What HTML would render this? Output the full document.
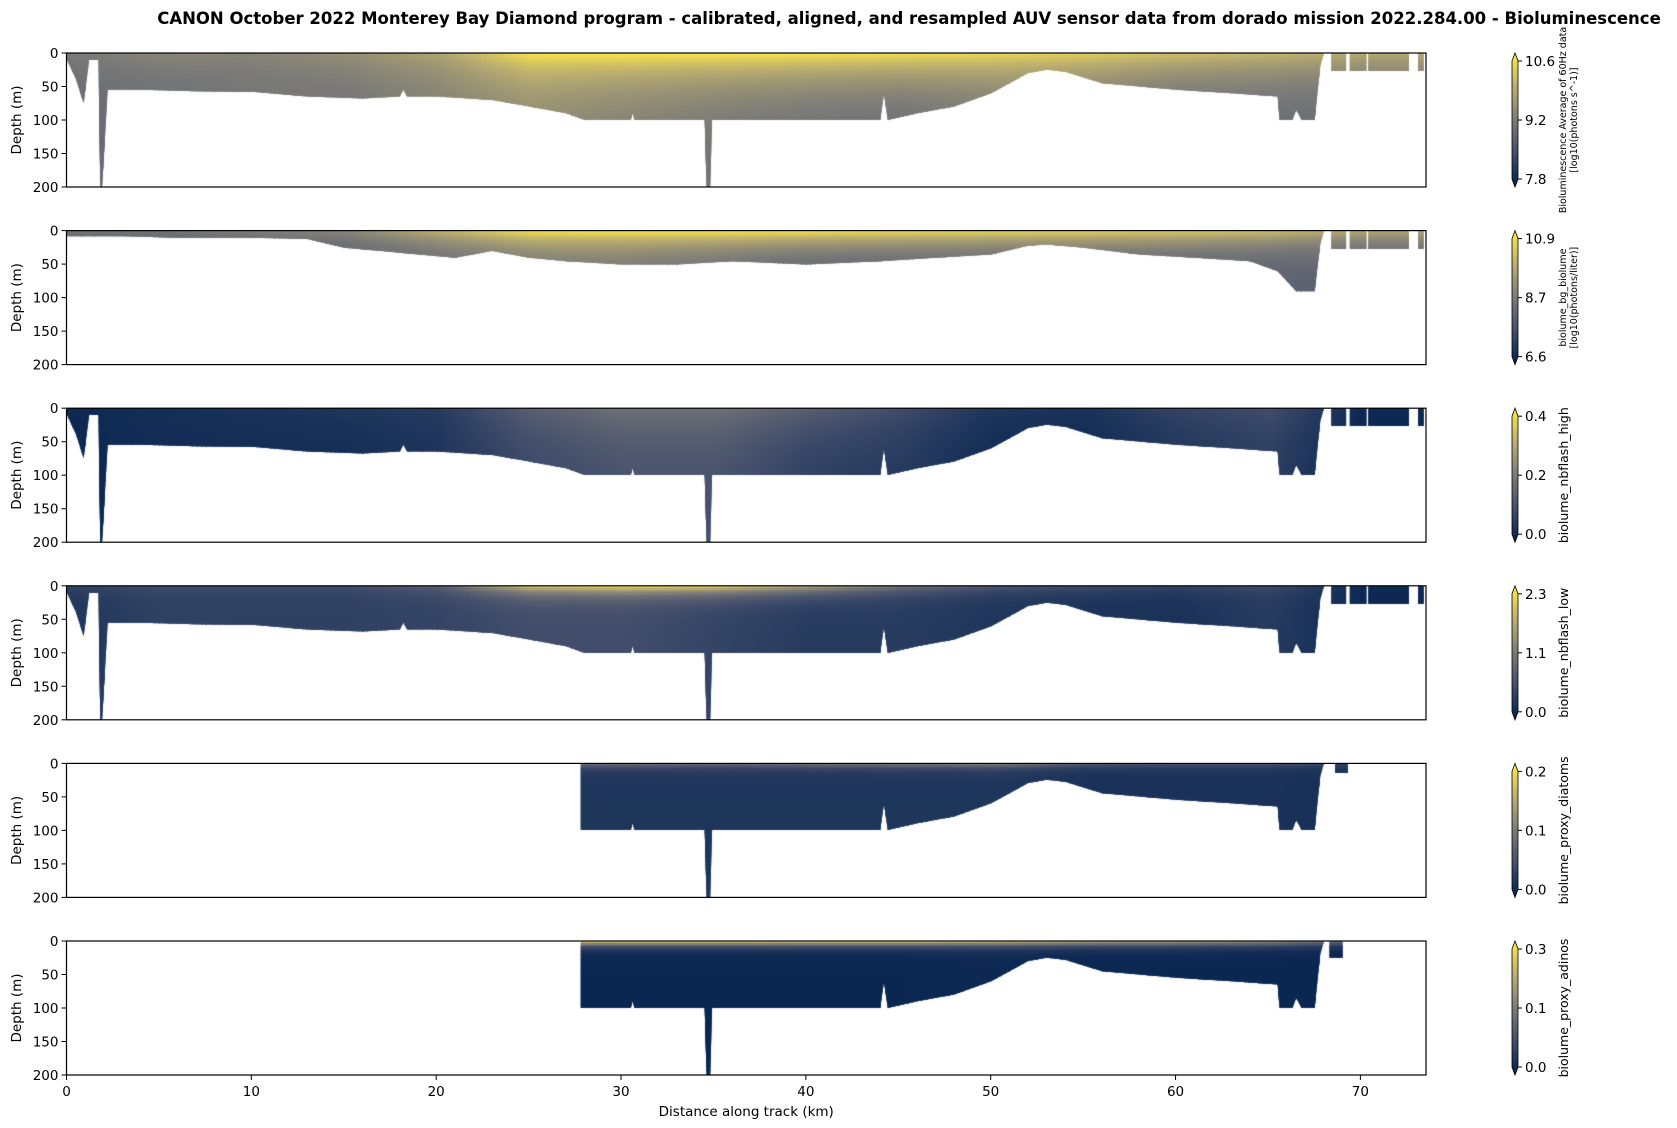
<!DOCTYPE html>
<html><head><meta charset="utf-8">
<style>
body{margin:0;background:#fff;width:1677px;height:1128px;overflow:hidden;position:relative;font-family:"DejaVu Sans","Liberation Sans",sans-serif}
canvas{position:absolute}
svg{position:absolute;left:0;top:0;font-family:"DejaVu Sans","Liberation Sans",sans-serif}
</style></head>
<body>
<div id="heat"></div>
<svg id="ax" width="1677" height="1128"></svg>
<script>
// ---- data ----
const trackKm   = [0,0.5,0.9,1.2,1.7,1.8,1.9,2.2,4,7,10,13,16,18,18.2,18.4,20,23,25,27,28,30.5,30.6,30.7,34.5,34.6,34.8,34.9,40,44,44.2,44.4,46,48,50,52,53,54,56,58,60,63,65.5,65.6,66.3,66.5,66.8,67.5,67.8,68];
const bottomM   = [10,40,75,10,10,200,200,55,55,57,58,65,68,65,55,65,65,70,80,90,100,100,90,100,100,200,200,100,100,100,60,100,90,80,60,30,25,28,45,50,55,60,65,100,100,85,100,100,20,0];
const bgKm      = [0,3,6,10,13,15,17,19,21,23,25,27,30,33,36,40,44,47,50,52,53,55,58,61,64,65.5,66.5,67.5,67.8,68];
const bgBottomM = [8,8,10,10,12,25,30,35,40,30,40,45,50,50,45,50,45,40,35,22,20,25,35,40,45,60,90,90,20,0];
const blockStart= [68.4,69.4,70.4,71.6,73.1];
const blockEnd  = [69.2,70.3,71.7,72.6,73.4];
const stationKm = [0,5,10,15,20,25,30,35,40,45,50,55,60,65,70];
const surfVals = [
 [0.5,0.55,0.55,0.6,0.7,0.97,0.98,0.98,0.97,0.95,0.92,0.88,0.82,0.78,0.72],
 [0.45,0.45,0.5,0.55,0.75,0.95,0.97,0.97,0.95,0.92,0.9,0.88,0.85,0.8,0.7],
 [0.05,0.08,0.1,0.12,0.15,0.35,0.45,0.45,0.35,0.25,0.12,0.1,0.2,0.25,0.05],
 [0.2,0.25,0.25,0.25,0.35,0.85,0.95,0.9,0.7,0.45,0.3,0.25,0.2,0.25,0.05],
 [0,0,0,0,0,0.45,0.5,0.45,0.5,0.55,0.6,0.35,0.3,0.3,0.2],
 [0,0,0,0,0,0.95,0.97,0.97,0.95,0.95,0.9,0.8,0.75,0.65,0.4]];
const deepVals = [
 [0.4,0.42,0.45,0.45,0.5,0.55,0.5,0.45,0.42,0.4,0.45,0.45,0.4,0.4,0.4],
 [0.35,0.35,0.35,0.35,0.4,0.45,0.45,0.4,0.35,0.35,0.35,0.35,0.35,0.35,0.35],
 [0.04,0.06,0.06,0.06,0.1,0.2,0.25,0.25,0.15,0.12,0.05,0.05,0.1,0.15,0.03],
 [0.12,0.18,0.18,0.18,0.2,0.25,0.25,0.2,0.15,0.15,0.12,0.1,0.1,0.15,0.05],
 [0.1,0.1,0.1,0.1,0.1,0.12,0.12,0.12,0.12,0.12,0.12,0.1,0.1,0.1,0.08],
 [0.03,0.03,0.03,0.03,0.03,0.04,0.04,0.04,0.04,0.04,0.05,0.04,0.04,0.04,0.03]];
const layerM = [45,25,60,12,6,6];
const cbLabels = ["Bioluminescence Average of 60Hz data|[log10(photons s^-1)]","biolume_bg_biolume|[log10(photons/liter)]","biolume_nbflash_high","biolume_nbflash_low","biolume_proxy_diatoms","biolume_proxy_adinos"];
const cbTicks = [["7.8","9.2","10.6"],["6.6","8.7","10.9"],["0.0","0.2","0.4"],["0.0","1.1","2.3"],["0.0","0.1","0.2"],["0.0","0.1","0.3"]];
const xTicks = [0,10,20,30,40,50,60,70];
const yTicks = [0,50,100,150,200];

// ---- layout ----
const X0=66.5, X1=1426, KMAX=73.55, PH=134;
const tops=[53,230.6,408.2,585.8,763.4,941];
const xs = km => X0 + (km/KMAX)*(X1-X0);
const ys = (d,i) => tops[i] + d/200*PH;
const stops=[[0,[0,32,77]],[0.25,[65,77,107]],[0.5,[124,123,120]],[0.75,[188,175,111]],[1,[255,234,70]]];
function cmap(v){v=Math.max(0,Math.min(1,v));for(let k=1;k<stops.length;k++){if(v<=stops[k][0]){const a=stops[k-1],b=stops[k],t=(v-a[0])/(b[0]-a[0]);return 'rgb('+a[1].map((c,j)=>Math.round(c+(b[1][j]-c)*t)).join(',')+')';}}}
function interp(arr,km){if(km<=stationKm[0])return arr[0];for(let k=1;k<stationKm.length;k++){if(km<=stationKm[k]){const t=(km-stationKm[k-1])/(stationKm[k]-stationKm[k-1]);return arr[k-1]+(arr[k]-arr[k-1])*t;}}return arr[arr.length-1];}

const NS='http://www.w3.org/2000/svg';
const svg=document.getElementById('ax');
function el(tag,attrs,parent){const e=document.createElementNS(NS,tag);for(const k in attrs)e.setAttribute(k,attrs[k]);(parent||svg).appendChild(e);return e;}

for(let i=0;i<6;i++){
  const cv=document.createElement('canvas');
  cv.width=Math.round(X1-X0);cv.height=PH;
  cv.style.left=X0+'px';cv.style.top=tops[i]+'px';
  
  
  document.getElementById('heat').appendChild(cv);
  const c=cv.getContext('2d');
  const px=km=>xs(km)-X0, py=d=>d/200*PH;
  c.beginPath();
  let kmA=trackKm, bA=bottomM;
  if(i===1){kmA=bgKm;bA=bgBottomM;}
  if(i>=4){
    c.moveTo(px(27.8),0);c.lineTo(px(27.8),py(100));
    for(let k=0;k<trackKm.length;k++){if(trackKm[k]>=28)c.lineTo(px(trackKm[k]),py(bottomM[k]));}
    c.closePath();
    const bs=i===4?[68.6]:[68.3], be=i===4?[69.3]:[69.0];
    c.rect(px(bs[0]),0,px(be[0])-px(bs[0]),py(i===4?15:25));
  } else {
    c.moveTo(px(0),0);
    for(let k=0;k<kmA.length;k++)c.lineTo(px(kmA[k]),py(bA[k]));
    c.closePath();
    for(let k=0;k<blockStart.length;k++)c.rect(px(blockStart[k]),0,px(blockEnd[k])-px(blockStart[k]),py(27));
  }
  c.save();c.clip();
  for(let km=0;km<KMAX;km+=0.25){
    const s=interp(surfVals[i],km), dv=interp(deepVals[i],km);
    for(let d=0;d<200;d+=2){
      const v=dv+(s-dv)*Math.exp(-d/layerM[i]);
      c.fillStyle=cmap(v);
      c.fillRect(Math.floor(px(km)),Math.floor(py(d)),Math.ceil(px(km+0.25)-px(km))+1,Math.ceil(py(d+2)-py(d))+1);
    }
  }
  c.restore();

  const f=el('rect',{x:X0,y:tops[i],width:X1-X0,height:PH,fill:'none',stroke:'#000','stroke-width':1.2});
  
  
  for(const t of yTicks){
    const y=ys(t,i);
    el('line',{x1:X0-5,x2:X0,y1:y,y2:y,stroke:'#000'});
    const tx=el('text',{x:X0-8,y:y+5,'text-anchor':'end','font-size':13.5});
    tx.textContent=t;
    
    
  }
  const yl=el('text',{transform:`translate(21,${tops[i]+PH/2}) rotate(-90)`,'text-anchor':'middle','font-size':13.5});
  yl.textContent='Depth (m)';
  
  
  if(i===5){
    for(const t of xTicks){
      const x=xs(t);
      el('line',{x1:x,x2:x,y1:tops[i]+PH,y2:tops[i]+PH+5,stroke:'#000'});
      const tx=el('text',{x:x,y:tops[i]+PH+21,'text-anchor':'middle','font-size':13.5});
      tx.textContent=t;
      
      
    }
  }
  const cbx=1512,cbw=6,cbt=tops[i]+8,cbb=tops[i]+PH-8;
  const gid='g'+i;
  const defs=el('defs',{});
  const g=el('linearGradient',{id:gid,x1:0,y1:1,x2:0,y2:0},defs);
  for(const s of stops)el('stop',{offset:s[0],'stop-color':'rgb('+s[1].join(',')+')'},g);
  const cb=el('path',{d:`M${cbx},${cbt} L${cbx+cbw/2},${cbt-8} L${cbx+cbw},${cbt} L${cbx+cbw},${cbb} L${cbx+cbw/2},${cbb+8} L${cbx},${cbb} Z`,fill:`url(#${gid})`,stroke:'#000','stroke-width':0.8});
  
  
  cbTicks[i].forEach((t,k)=>{
    const y=cbb-(cbb-cbt)*k/2;
    el('line',{x1:cbx+cbw,x2:cbx+cbw+4,y1:y,y2:y,stroke:'#000'});
    const tx=el('text',{x:cbx+cbw+7,y:y+5,'font-size':13.5});
    tx.textContent=t;
    
    
  });
  const parts=cbLabels[i].split('|');
  const two=parts.length>1;
  const lt=el('text',{transform:`translate(${two?1566:1568},${tops[i]+PH/2}) rotate(-90)`,'text-anchor':'middle','font-size':two?9.5:12.5});
  
  
  parts.forEach((p,k)=>{const ts=el('tspan',{x:0,dy:k?11:0},lt);ts.textContent=p;});
}
const xl=el('text',{x:(X0+X1)/2,y:1116,'text-anchor':'middle','font-size':13.5});
xl.textContent='Distance along track (km)';


const ti=el('text',{x:909,y:24,'text-anchor':'middle','font-size':16.5,'font-weight':'bold'});
ti.textContent='CANON October 2022 Monterey Bay Diamond program - calibrated, aligned, and resampled AUV sensor data from dorado mission 2022.284.00 - Bioluminescence';


</script>
</body></html>
